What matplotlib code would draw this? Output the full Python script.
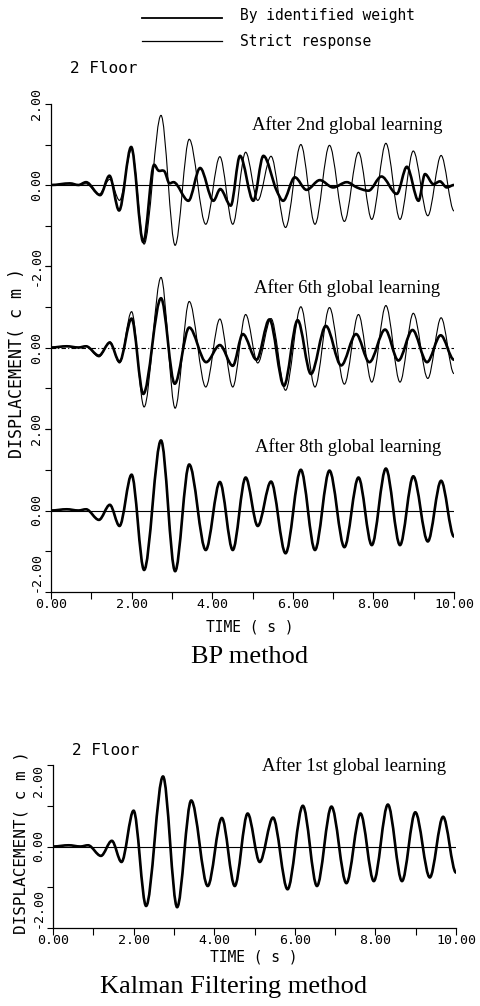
import matplotlib
matplotlib.use('Agg')
import matplotlib.pyplot as plt
from matplotlib.path import Path
from matplotlib.patches import PathPatch

# ---------------- data (extrema of each trace) -------------
# Strict response (thin line), time in s, displacement in cm
strict_t = [0.00, 0.39, 0.68, 0.87, 1.19, 1.46, 1.70, 2.00, 2.31, 2.73, 3.08, 3.43,
            3.84, 4.19, 4.51, 4.83, 5.13, 5.46, 5.82, 6.20, 6.55, 6.91, 7.28, 7.63,
            7.96, 8.31, 8.66, 8.99, 9.35, 9.68, 10.00]
strict_v = [0.00, 0.03, 0.00, 0.03, -0.23, 0.14, -0.38, 0.88, -1.46, 1.72, -1.49, 1.13,
            -0.97, 0.70, -0.97, 0.81, -0.38, 0.71, -1.05, 1.00, -0.97, 0.98, -0.90, 0.81,
            -0.85, 1.03, -0.85, 0.84, -0.76, 0.73, -0.64]

# By identified weight after 2nd global learning (thick line)
bp2_t = [0.00, 0.47, 0.68, 0.87, 1.22, 1.45, 1.69, 1.99, 2.29, 2.56, 2.66, 2.82,
         2.94, 3.04, 3.41, 3.70, 4.03, 4.20, 4.46, 4.69, 5.02, 5.27, 5.60, 5.76,
         6.05, 6.34, 6.67, 7.00, 7.34, 7.59, 7.88, 8.20, 8.58, 8.83, 9.12, 9.28,
         9.49, 9.65, 9.82, 10.00]
bp2_v = [0.00, 0.04, 0.00, 0.07, -0.25, 0.23, -0.63, 0.94, -1.41, 0.50, 0.36, 0.33,
         0.04, 0.07, -0.39, 0.42, -0.39, -0.10, -0.51, 0.72, -0.39, 0.72, -0.14, -0.39,
         0.19, -0.12, 0.12, -0.06, 0.07, -0.06, -0.14, 0.21, -0.22, 0.45, -0.39, 0.27,
         0.02, 0.09, -0.06, 0.00]

# By identified weight after 6th global learning (thick line)
bp6_t = [0.00, 0.39, 0.68, 0.87, 1.19, 1.46, 1.70, 2.00, 2.29, 2.73, 3.07, 3.43,
         3.85, 4.19, 4.51, 4.76, 5.10, 5.42, 5.78, 6.12, 6.45, 6.82, 7.20, 7.57,
         7.90, 8.29, 8.62, 8.97, 9.33, 9.67, 10.00]
bp6_v = [0.00, 0.03, 0.00, 0.03, -0.20, 0.12, -0.35, 0.71, -1.14, 1.21, -0.89, 0.49,
         -0.36, 0.06, -0.45, 0.33, -0.30, 0.69, -0.94, 0.67, -0.65, 0.53, -0.44, 0.33,
         -0.36, 0.44, -0.32, 0.43, -0.36, 0.30, -0.30]

# After 8th global learning and Kalman filtering: coincide with the strict response
bp8_t = strict_t
bp8_v = strict_v
kal_t = strict_t
kal_v = strict_v

yticks = [-2, -1, 0, 1, 2]
ylab_full = ['-2.00', '', '0.00', '', '2.00']
ylab_mid = ['', '', '0.00', '', '']
xticks_major = [0, 2, 4, 6, 8, 10]
xtick_labels = ['0.00', '2.00', '4.00', '6.00', '8.00', '10.00']
xticks_minor = [1, 3, 5, 7, 9]

PLOT_FONT = 'DejaVu Sans Mono'
SERIF = 'Liberation Serif'


def smooth_path(t, v):
    """Cubic Bezier path through the read points (horizontal tangents at extrema)."""
    n = len(t)
    slopes = []
    for i in range(n):
        if i == 0 or i == n - 1:
            slopes.append(0.0)
            continue
        d1 = v[i] - v[i - 1]
        d2 = v[i + 1] - v[i]
        if d1 * d2 <= 0:
            slopes.append(0.0)
        else:
            slopes.append(0.5 * (d1 / (t[i] - t[i - 1]) + d2 / (t[i + 1] - t[i])))
    verts = [(t[0], v[0])]
    codes = [Path.MOVETO]
    for i in range(n - 1):
        dt = t[i + 1] - t[i]
        verts += [(t[i] + dt / 3, v[i] + slopes[i] * dt / 3),
                  (t[i + 1] - dt / 3, v[i + 1] - slopes[i + 1] * dt / 3),
                  (t[i + 1], v[i + 1])]
        codes += [Path.CURVE4] * 3
    return Path(verts, codes)


def draw(ax, t, v, lw):
    ax.add_patch(PathPatch(smooth_path(t, v), fill=False, edgecolor='black',
                           linewidth=lw, capstyle='round', joinstyle='round'))


W, H = 481, 1006
fig = plt.figure(figsize=(W / 100, H / 100), dpi=100)


def make_ax(x0, ytop, ybot, xlab):
    ax = fig.add_axes([x0 / W, (H - ybot) / H, 403 / W, (ybot - ytop) / H])
    ax.set_xlim(0, 10)
    ax.set_ylim(-2, 2)
    for s in ['top', 'right']:
        ax.spines[s].set_visible(False)
    ax.spines['left'].set_linewidth(0.9)
    ax.spines['bottom'].set_linewidth(0.9)
    ax.set_yticks(yticks)
    ax.tick_params(axis='y', direction='out', length=4, width=0.8, pad=2)
    if xlab:
        ax.set_xticks(xticks_major)
        ax.set_xticklabels(xtick_labels, fontfamily=PLOT_FONT, fontsize=9.5)
        ax.set_xticks(xticks_minor, minor=True)
        ax.tick_params(axis='x', which='both', direction='out', length=5, width=0.8, pad=-1)
    else:
        ax.spines['bottom'].set_visible(False)
        ax.set_xticks([])
    ax.axhline(0, color='black', linewidth=0.8)
    return ax


ax1 = make_ax(51, 104, 266, False)
ax2 = make_ax(51, 266, 429, False)
ax3 = make_ax(51, 429, 592, True)
ax4 = make_ax(53, 765, 928, True)

for ax, labs in [(ax1, ylab_full), (ax2, ylab_mid), (ax3, ylab_full), (ax4, ylab_full)]:
    ax.set_yticklabels(labs, rotation=90, va='center', fontfamily=PLOT_FONT, fontsize=9.5)

# bottom "-2.00" labels sit above their tick, as in the original plotter output
ax3.yaxis.get_major_ticks()[0].label1.set_verticalalignment('bottom')
ax4.yaxis.get_major_ticks()[0].label1.set_verticalalignment('bottom')
ax4.yaxis.get_major_ticks()[4].label1.set_verticalalignment('top')

ax2.lines[0].set_linestyle((0, (4, 2, 1, 2)))

# traces
draw(ax1, strict_t, strict_v, 0.8)
draw(ax1, bp2_t, bp2_v, 1.9)
draw(ax2, strict_t, strict_v, 0.8)
draw(ax2, bp6_t, bp6_v, 1.9)
draw(ax3, strict_t, strict_v, 0.8)
draw(ax3, bp8_t, bp8_v, 1.9)
draw(ax4, strict_t, strict_v, 0.8)
draw(ax4, kal_t, kal_v, 1.9)


def ftext(x, y, s, **kw):
    fig.text(x / W, 1 - y / H, s, **kw)


# legend
fig.add_artist(plt.Line2D([142 / W, 222 / W], [1 - 18 / H, 1 - 18 / H], color='black', linewidth=1.3))
fig.add_artist(plt.Line2D([142 / W, 222 / W], [1 - 41 / H, 1 - 41 / H], color='black', linewidth=0.9))
ftext(240, 20, 'By identified weight', fontfamily=PLOT_FONT, fontsize=10.5, va='baseline')
ftext(240, 46, 'Strict response', fontfamily=PLOT_FONT, fontsize=10.5, va='baseline')

# panel annotations
ftext(70, 73, '2 Floor', fontfamily=PLOT_FONT, fontsize=11.5, va='baseline')
ftext(72, 755, '2 Floor', fontfamily=PLOT_FONT, fontsize=11.5, va='baseline')
ftext(347, 130, 'After 2nd global learning', fontfamily=SERIF, fontsize=13.5, ha='center', va='baseline')
ftext(347, 293, 'After 6th global learning', fontfamily=SERIF, fontsize=13.5, ha='center', va='baseline')
ftext(348, 452, 'After 8th global learning', fontfamily=SERIF, fontsize=13.5, ha='center', va='baseline')
ftext(354, 771, 'After 1st global learning', fontfamily=SERIF, fontsize=13.5, ha='center', va='baseline')

# axis titles
ftext(17, 363, 'DISPLACEMENT( c m )', fontfamily=PLOT_FONT, fontsize=12, rotation=90,
      ha='center', va='center')
ftext(21, 843, 'DISPLACEMENT( c m )', fontfamily=PLOT_FONT, fontsize=11.5, rotation=90,
      ha='center', va='center')
ftext(250, 631, 'TIME ( s )', fontfamily=PLOT_FONT, fontsize=10.5, ha='center', va='baseline')
ftext(254, 961, 'TIME ( s )', fontfamily=PLOT_FONT, fontsize=10.5, ha='center', va='baseline')

ftext(250, 663, 'BP method', fontfamily=SERIF, fontsize=19, ha='center', va='baseline')
ftext(234, 993, 'Kalman Filtering method', fontfamily=SERIF, fontsize=19, ha='center', va='baseline')

fig.savefig('out.png', dpi=100)
